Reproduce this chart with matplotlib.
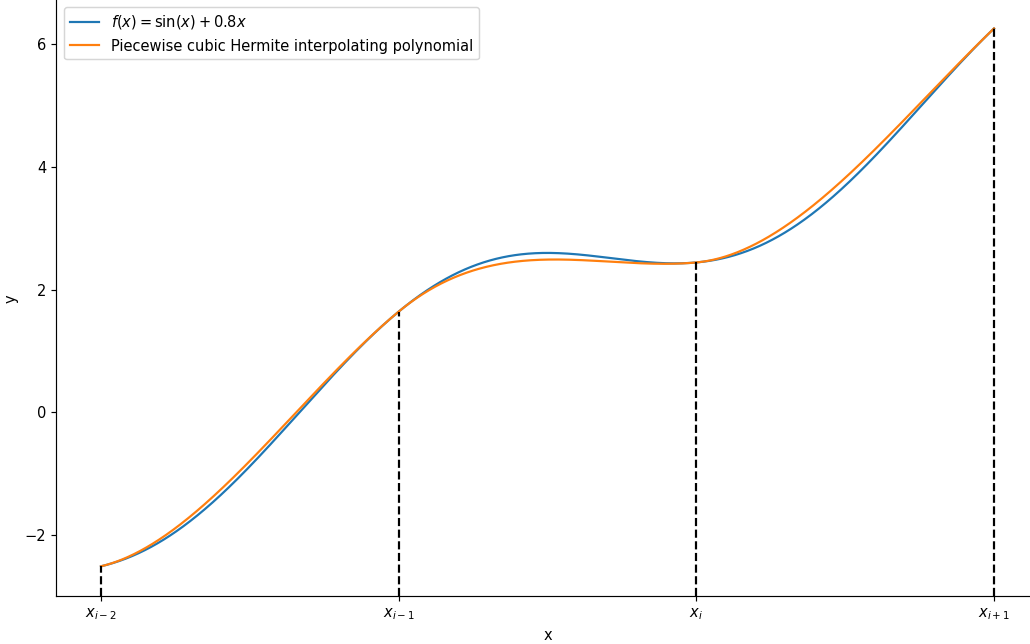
import matplotlib
matplotlib.use("Agg")
import matplotlib.pyplot as plt
import numpy as np

# uzly interpolace a popisky na ose x
nodes = [-2.0, 1.0, 4.0, 7.0]
node_labels = [r'$x_{i-2}$', r'$x_{i-1}$', r'$x_i$', r'$x_{i+1}$']
y_bottom = -3


def f(x):
    return np.sin(x) + 0.8 * x


def df(x):
    return np.cos(x) + 0.8


def hermite(x, xs):
    # po částech kubický Hermitův polynom
    out = np.empty_like(x)
    for k in range(len(xs) - 1):
        a, b = xs[k], xs[k + 1]
        h = b - a
        m = (x >= a) & (x <= b)
        t = (x[m] - a) / h
        h00 = 2 * t**3 - 3 * t**2 + 1
        h10 = t**3 - 2 * t**2 + t
        h01 = -2 * t**3 + 3 * t**2
        h11 = t**3 - t**2
        out[m] = h00 * f(a) + h10 * h * df(a) + h01 * f(b) + h11 * h * df(b)
    return out


x = np.linspace(nodes[0], nodes[-1], 1000)

dpi = 105.5
fig = plt.figure(figsize=(1030 / dpi, 644 / dpi), dpi=dpi)
ax = fig.add_axes([0.0547, 0.0739, 0.9537, 0.926])

ax.plot(x, f(x), label=r'$f(x) = \sin(x) + 0.8x$')
ax.plot(x, hermite(x, nodes), label='Piecewise cubic Hermite interpolating polynomial')
for xn in nodes:
    ax.vlines(xn, y_bottom, f(xn), colors='black', linestyles='--', linewidth=1.5)

ax.set_ylim(bottom=y_bottom)
ax.set_xticks(nodes)
ax.set_xticklabels(node_labels)
ax.set_xlabel('x')
ax.set_ylabel('y')
ax.spines['top'].set_visible(False)
ax.spines['right'].set_visible(False)
ax.legend(loc='upper left')

fig.savefig('out.png', dpi=dpi)
